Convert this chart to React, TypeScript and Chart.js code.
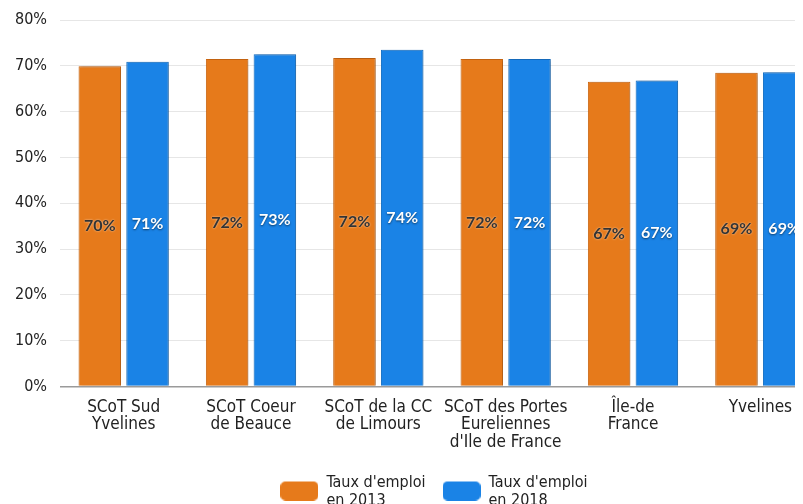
import { useEffect, useRef } from "react";
import { Chart, registerables } from "chart.js";

Chart.register(...registerables);

const CATEGORIES: string[][] = [
  ["SCoT Sud", "Yvelines"],
  ["SCoT Coeur", "de Beauce"],
  ["SCoT de la CC", "de Limours"],
  ["SCoT des Portes", "Eureliennes", "d'Ile de France"],
  ["Île-de", "France"],
  ["Yvelines"],
];
const SERIES_2013 = [69.9, 71.5, 71.7, 71.5, 66.5, 68.5];
const SERIES_2018 = [70.9, 72.5, 73.5, 71.5, 66.8, 68.6];
const SERIES_NAMES = ["Taux d'emploi en 2013", "Taux d'emploi en 2018"];
const LEGEND_LINES: string[][] = [
  ["Taux d'emploi", "en 2013"],
  ["Taux d'emploi", "en 2018"],
];
const Y_MIN = 0;
const Y_MAX = 80;
const Y_STEP = 10;

const ORANGE = "#E67A1B";
const BLUE = "#1A83E6";
const FONT = "'DejaVu Sans Condensed', 'DejaVu Sans', sans-serif";

// legend marker: rounded rectangle, drawn a little below the first text line
function makeMarker(color: string) {
  const c = document.createElement("canvas");
  c.width = 38;
  c.height = 35;
  const g = c.getContext("2d")!;
  g.fillStyle = color;
  g.beginPath();
  (g as any).roundRect(0, 16, 38, 19, 5);
  g.fill();
  return c;
}

function multiLine(lines: string[]) {
  const arr: any = lines.slice();
  const longest = lines.reduce((a, b) => (a.length >= b.length ? a : b));
  arr.toString = () => longest;
  return arr;
}

const barShadowAndLabels = {
  id: "barShadowAndLabels",
  afterLayout(chart: any) {
    const lg = chart.legend;
    if (lg) {
      lg.left += 18;
      lg.right += 18;
      lg.bottom += 20;
      lg.height += 20;
    }
  },
  beforeDatasetsDraw(chart: any) {
    const ctx = chart.ctx;
    ctx.save();
    ctx.shadowColor = "rgba(0,0,0,0.28)";
    ctx.shadowBlur = 3;
    ctx.shadowOffsetX = 1;
    ctx.shadowOffsetY = 0;
  },
  afterDatasetsDraw(chart: any) {
    const ctx = chart.ctx;
    ctx.restore();
    ctx.save();
    ctx.font = "bold 16px Lato, 'DejaVu Sans', sans-serif";
    ctx.textAlign = "center";
    ctx.textBaseline = "middle";
    chart.data.datasets.forEach((ds: any, di: number) => {
      const meta = chart.getDatasetMeta(di);
      meta.data.forEach((bar: any, i: number) => {
        const v = ds.data[i];
        const text = Math.round(v) + "%";
        const x = bar.x;
        const y = (bar.y + bar.base) / 2;
        if (di === 0) {
          ctx.shadowColor = "rgba(255,255,255,0.7)";
          ctx.shadowBlur = 2;
          ctx.shadowOffsetX = 0;
          ctx.shadowOffsetY = 0;
          ctx.fillStyle = "#333333";
        } else {
          ctx.shadowColor = "rgba(0,0,0,0.55)";
          ctx.shadowBlur = 2;
          ctx.shadowOffsetX = 0;
          ctx.shadowOffsetY = 1;
          ctx.fillStyle = "#ffffff";
        }
        ctx.fillText(text, x, y);
      });
    });
    ctx.restore();
  },
};

export default function App() {
  const ref = useRef<HTMLCanvasElement | null>(null);
  useEffect(() => {
    if (!ref.current) return;
    const chart = new Chart(ref.current, {
      type: "bar",
      data: {
        labels: CATEGORIES,
        datasets: [
          {
            label: SERIES_NAMES[0],
            data: SERIES_2013,
            backgroundColor: ORANGE,
            borderColor: "#CF6912",
            borderWidth: 1,
            categoryPercentage: 0.75,
            barPercentage: 0.89,
          },
          {
            label: SERIES_NAMES[1],
            data: SERIES_2018,
            backgroundColor: BLUE,
            borderColor: "#1672C9",
            borderWidth: 1,
            categoryPercentage: 0.75,
            barPercentage: 0.89,
          },
        ],
      },
      options: {
        responsive: false,
        animation: false,
        layout: { padding: { left: 0, right: 0, top: 0, bottom: 19 } },
        plugins: {
          tooltip: { enabled: false },
          legend: {
            position: "bottom",
            labels: {
              usePointStyle: true,
              pointStyleWidth: 38,
              boxHeight: 16,
              padding: 17,
              color: "#222",
              font: { family: FONT, size: 16, lineHeight: 1.12 },
              generateLabels: (c: any) => {
                const items = Chart.defaults.plugins.legend.labels.generateLabels(c);
                return items.map((it: any, i: number) => ({
                  ...it,
                  text: multiLine(LEGEND_LINES[i]),
                  pointStyle: makeMarker(c.data.datasets[i].backgroundColor),
                  lineWidth: 0,
                  strokeStyle: "transparent",
                }));
              },
            },
          },
        },
        scales: {
          x: {
            afterFit: (s: any) => {
              s.height = 71.5;
            },
            grid: { display: false, drawTicks: false },
            border: { display: false },
            ticks: {
              autoSkip: false,
              maxRotation: 0,
              minRotation: 0,
              padding: 12,
              color: "#222",
              font: { family: FONT, size: 17, lineHeight: 1.04 },
            },
          },
          y: {
            min: Y_MIN,
            max: Y_MAX,
            afterFit: (s: any) => {
              s.width = 52;
              s.paddingTop = 12;
              s.paddingBottom = 0;
            },
            grid: {
              drawTicks: false,
              color: (c: any) => (c.tick && c.tick.value === 0 ? "#9a9a9a" : "#e6e6e6"),
              lineWidth: (c: any) => (c.tick && c.tick.value === 0 ? 1.5 : 1),
            },
            border: { display: false },
            ticks: {
              stepSize: Y_STEP,
              padding: 13,
              color: "#222",
              font: { family: FONT, size: 16 },
              callback: (v: any) => v + "%",
            },
          },
        },
      },
      plugins: [barShadowAndLabels],
    });
    return () => chart.destroy();
  }, []);
  return (
    <div style={{ width: 795, height: 496, overflow: "hidden" }}>
      <canvas ref={ref} width={816} height={512} />
    </div>
  );
}
